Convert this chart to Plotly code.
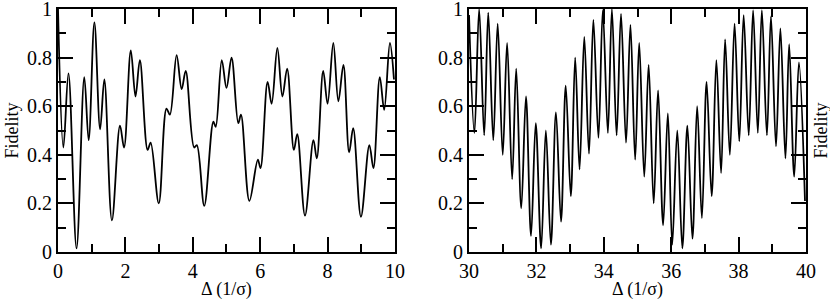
import plotly.graph_objects as go
from plotly.subplots import make_subplots

# left panel: fidelity vs detuning, 0..10
left_delta = [0.0, 0.16, 0.31, 0.55, 0.78, 0.91, 1.08, 1.25, 1.375, 1.60, 1.84, 1.96,
              2.16, 2.30, 2.43, 2.66, 2.75, 2.99, 3.22, 3.32, 3.52, 3.67, 3.79, 4.04,
              4.12, 4.34, 4.61, 4.68, 4.86, 5.0, 5.15, 5.35, 5.43, 5.68, 5.93, 6.01,
              6.22, 6.34, 6.51, 6.66, 6.80, 7.00, 7.10, 7.33, 7.58, 7.68, 7.87, 8.0,
              8.17, 8.32, 8.47, 8.64, 8.76, 8.99, 9.24, 9.36, 9.55, 9.68, 9.85, 9.97]
left_fid = [1.0, 0.43, 0.735, 0.015, 0.72, 0.46, 0.945, 0.505, 0.71, 0.13, 0.52, 0.43,
            0.83, 0.64, 0.79, 0.42, 0.45, 0.2, 0.59, 0.565, 0.81, 0.67, 0.745, 0.43,
            0.44, 0.19, 0.536, 0.515, 0.79, 0.675, 0.80, 0.53, 0.565, 0.21, 0.38, 0.345,
            0.70, 0.61, 0.84, 0.64, 0.755, 0.42, 0.485, 0.15, 0.46, 0.385, 0.745, 0.61,
            0.86, 0.62, 0.77, 0.41, 0.51, 0.145, 0.44, 0.345, 0.72, 0.585, 0.86, 0.71]

# right panel: 30..40
right_delta = [30.0, 30.16, 30.30, 30.45, 30.57, 30.72, 30.85, 31.0, 31.13, 31.28, 31.40, 31.55,
               31.69, 31.84, 31.98, 32.14, 32.28, 32.43, 32.58, 32.73, 32.87, 33.02, 33.15, 33.28,
               33.42, 33.56, 33.69, 33.84, 33.97, 34.12, 34.24, 34.38, 34.51, 34.66, 34.79, 34.93,
               35.05, 35.20, 35.33, 35.48, 35.61, 35.76, 35.90, 36.03, 36.18, 36.33, 36.48, 36.63,
               36.77, 36.91, 37.05, 37.20, 37.34, 37.48, 37.60, 37.74, 37.88, 38.02, 38.15, 38.30,
               38.43, 38.57, 38.69, 38.84, 38.96, 39.11, 39.24, 39.39, 39.50, 39.65, 39.79, 39.97]
right_fid = [0.975, 0.49, 1.0, 0.48, 0.985, 0.46, 0.94, 0.40, 0.86, 0.30, 0.755, 0.18,
             0.64, 0.066, 0.53, 0.015, 0.50, 0.03, 0.575, 0.125, 0.685, 0.23, 0.80, 0.34,
             0.885, 0.405, 0.955, 0.47, 0.995, 0.49, 1.0, 0.48, 0.98, 0.45, 0.935, 0.38,
             0.86, 0.31, 0.77, 0.20, 0.665, 0.11, 0.57, 0.03, 0.50, 0.015, 0.52, 0.055,
             0.60, 0.14, 0.70, 0.23, 0.79, 0.325, 0.875, 0.40, 0.94, 0.455, 0.975, 0.48,
             0.995, 0.49, 0.995, 0.48, 0.97, 0.435, 0.92, 0.385, 0.855, 0.31, 0.78, 0.21]

x_title = 'Δ (1/σ)'
y_title = 'Fidelity'
FONT = 'Liberation Serif'
tick_font = dict(family=FONT, size=20, color='black')
title_font = dict(family=FONT, size=18, color='black')

fig = make_subplots(rows=1, cols=2, horizontal_spacing=0.099)

fig.add_trace(go.Scatter(x=left_delta, y=left_fid, mode='lines', line_shape='spline',
                         line=dict(color='black', width=1.8), showlegend=False), row=1, col=1)
fig.add_trace(go.Scatter(x=right_delta, y=right_fid, mode='lines', line_shape='spline',
                         line=dict(color='black', width=1.8), showlegend=False), row=1, col=2)

minor_x = dict(dtick=1, ticks='inside', ticklen=8, tickwidth=1.5, tickcolor='black')
minor_y = dict(dtick=0.1, ticks='inside', ticklen=8, tickwidth=1.5, tickcolor='black')

fig.update_xaxes(showline=True, linecolor='black', linewidth=2, mirror='ticks',
                 ticks='inside', ticklen=15, tickwidth=1.5, tickcolor='black',
                 showgrid=False, zeroline=False, tickfont=tick_font, automargin=False,
                 ticklabeloverflow='allow', dtick=2, minor=minor_x,
                 title=dict(text=x_title, font=title_font, standoff=2))
fig.update_xaxes(range=[0, 10], row=1, col=1)
fig.update_xaxes(range=[30, 40], row=1, col=2)

fig.update_yaxes(showline=True, linecolor='black', linewidth=2, mirror='ticks',
                 ticks='inside', ticklen=15, tickwidth=1.5, tickcolor='black',
                 showgrid=False, zeroline=False, tickfont=tick_font, automargin=False,
                 ticklabeloverflow='allow', range=[0, 1], dtick=0.2, minor=minor_y)
fig.update_yaxes(title=dict(text=y_title, font=title_font, standoff=4), row=1, col=1)

# right panel's y title sits on the far side of the box
fig.add_annotation(text=y_title, xref='paper', yref='paper', x=1.0, y=0.5,
                   xshift=14, textangle=-90, showarrow=False, xanchor='center',
                   yanchor='middle', font=title_font)

fig.update_layout(width=830, height=300, margin=dict(l=58, r=24, t=9, b=48),
                  font=dict(family=FONT, color='black'),
                  plot_bgcolor='white', paper_bgcolor='white')

# page body has a default 8px margin; drop it so the figure sits at the window corner
fig.write_html("out.html", config={'displayModeBar': False},
               post_script="document.body.style.margin='0';")
